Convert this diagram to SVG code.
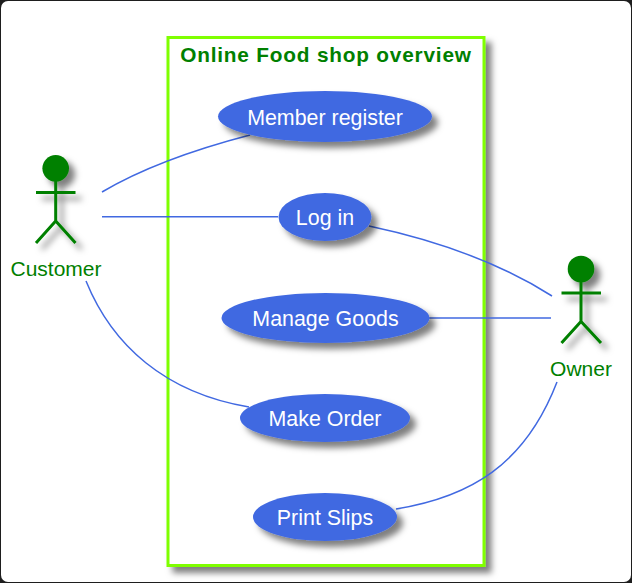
<svg xmlns="http://www.w3.org/2000/svg" width="632" height="583" viewBox="0 0 632 583">
<style>
text{font-family:"Liberation Sans",Arial,sans-serif}
.uc{fill:#4169E1;filter:url(#sh)}
.ut{fill:#fff;font-size:21.4px;text-anchor:middle}
.at{fill:#008000;font-size:21px;text-anchor:middle}
.head{fill:#008000}
.body{fill:none;stroke:#008000;stroke-width:3}
.act{filter:url(#sh)}
.c{fill:none;stroke:#4169E1;stroke-width:1.500}
</style>
<defs>
<filter id="sh" x="-30%" y="-30%" width="170%" height="170%">
<feDropShadow dx="6" dy="6" stdDeviation="3" flood-color="#000" flood-opacity="0.5"/>
</filter>
</defs>
<rect width="632" height="583" fill="#1e1e1e"/>
<rect x="1" y="1" width="630" height="581" rx="7" fill="#fff"/>
<g id="frame">
<rect x="168" y="37.500" width="316" height="528" fill="#fff" stroke="#7FFF00" stroke-width="3" filter="url(#sh)"/>
<text x="326" y="62" fill="#008000" font-size="20.800" font-weight="bold" letter-spacing="0.8" text-anchor="middle">Online Food shop overview</text>
</g>
<g id="connectors">
<path class="c" d="M102 192C146 166 200 148 250 135"/>
<path class="c" d="M102 216.800H278"/>
<path class="c" d="M369 226C435 240 500 263 552 296"/>
<path class="c" d="M429 318H551"/>
<path class="c" d="M86 281C112 345 165 393 249 407"/>
<path class="c" d="M396 509C470 497 525 465 557 382"/>
</g>
<g id="member-register"><ellipse class="uc" cx="325" cy="116.500" rx="107" ry="25.500"/><text class="ut" x="325" y="125">Member register</text></g>
<g id="log-in"><ellipse class="uc" cx="325" cy="217" rx="46.500" ry="24"/><text class="ut" x="325" y="225">Log in</text></g>
<g id="manage-goods"><ellipse class="uc" cx="325.500" cy="318" rx="104" ry="25"/><text class="ut" x="325.500" y="326">Manage Goods</text></g>
<g id="make-order"><ellipse class="uc" cx="325" cy="418" rx="85" ry="24"/><text class="ut" x="325" y="426">Make Order</text></g>
<g id="print-slips"><ellipse class="uc" cx="325" cy="517" rx="72" ry="24"/><text class="ut" x="325" y="525">Print Slips</text></g>
<g id="customer">
<g class="act"><circle class="head" cx="55.700" cy="168.300" r="13.300"/><path class="body" d="M55.700 181V221M36 192.500H75.500M36 243L55.700 221L75.500 243"/></g>
<text class="at" x="56" y="276">Customer</text>
</g>
<g id="owner">
<g class="act"><circle class="head" cx="581" cy="269" r="13.300"/><path class="body" d="M581 282V321.500M561.500 293H601M561.500 343L581 321.500L601 343"/></g>
<text class="at" x="581" y="376">Owner</text>
</g>
</svg>
